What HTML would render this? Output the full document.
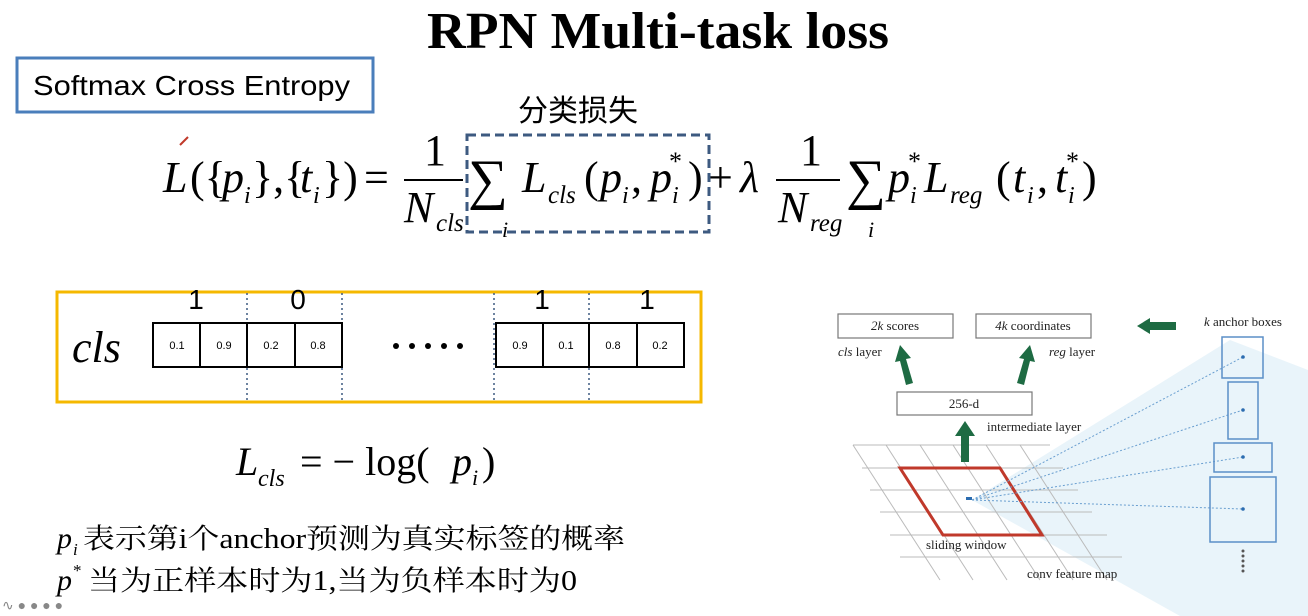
<!DOCTYPE html>
<html><head><meta charset="utf-8"><style>
html,body{margin:0;padding:0;background:#fff;}
svg{display:block;}
.s{font-family:"Liberation Serif","Noto Serif CJK SC",serif;}
.a{font-family:"Liberation Sans","Noto Sans CJK SC",sans-serif;}
.it{font-style:italic;}
</style></head><body>
<svg width="1308" height="616" viewBox="0 0 1308 616" xmlns="http://www.w3.org/2000/svg">
<rect width="1308" height="616" fill="#fff"/>
<!-- title -->
<text x="658" y="48" class="s" font-size="52" font-weight="bold" text-anchor="middle" textLength="462" lengthAdjust="spacingAndGlyphs">RPN Multi-task loss</text>
<rect x="17" y="58" width="356" height="54" fill="none" stroke="#4a7ebb" stroke-width="3"/>
<text x="33" y="95" class="a" font-size="28" textLength="317" lengthAdjust="spacingAndGlyphs">Softmax Cross Entropy</text>
<text x="518" y="121" class="a" font-size="30">分类损失</text>

<!-- formula -->
<g class="s" font-size="44">
<text x="163" y="192" class="it">L</text>
<text x="190" y="192">({</text>
<text x="222" y="192" class="it">p</text>
<text x="244" y="203" class="it" font-size="24">i</text>
<text x="252" y="192">},{</text>
<text x="300" y="192" class="it">t</text>
<text x="313" y="203" class="it" font-size="24">i</text>
<text x="322" y="192">})</text>
<text x="364" y="192">=</text>
<text x="424" y="165">1</text>
<line x1="404" y1="180" x2="463" y2="180" stroke="#000" stroke-width="2"/>
<text x="404" y="222" class="it">N</text>
<text x="436" y="231" class="it" font-size="25">cls</text>
<text x="468" y="198" font-size="56">∑</text>
<text x="502" y="237" class="it" font-size="22">i</text>
<text x="522" y="192" class="it">L</text>
<text x="548" y="203" class="it" font-size="25">cls</text>
<text x="584" y="192">(</text>
<text x="600" y="192" class="it">p</text>
<text x="622" y="203" class="it" font-size="24">i</text>
<text x="631" y="192">,</text>
<text x="650" y="192" class="it">p</text>
<text x="672" y="203" class="it" font-size="24">i</text>
<text x="669" y="170" font-size="26">*</text>
<text x="688" y="192">)</text>
<text x="708" y="192">+</text>
<text x="740" y="192" class="it">λ</text>
<text x="800" y="165">1</text>
<line x1="776" y1="180" x2="840" y2="180" stroke="#000" stroke-width="2"/>
<text x="778" y="222" class="it">N</text>
<text x="810" y="231" class="it" font-size="25">reg</text>
<text x="846" y="198" font-size="56">∑</text>
<text x="868" y="237" class="it" font-size="22">i</text>
<text x="888" y="192" class="it">p</text>
<text x="910" y="203" class="it" font-size="24">i</text>
<text x="908" y="170" font-size="26">*</text>
<text x="924" y="192" class="it">L</text>
<text x="950" y="203" class="it" font-size="25">reg</text>
<text x="996" y="192">(</text>
<text x="1013" y="192" class="it">t</text>
<text x="1027" y="203" class="it" font-size="24">i</text>
<text x="1037" y="192">,</text>
<text x="1055" y="192" class="it">t</text>
<text x="1068" y="203" class="it" font-size="24">i</text>
<text x="1066" y="170" font-size="26">*</text>
<text x="1082" y="192">)</text>
</g>
<rect x="467" y="135" width="242" height="97" fill="none" stroke="#3d5a80" stroke-width="3" stroke-dasharray="9,5"/>
<path d="M180 145 l8 -8" stroke="#c0392b" stroke-width="2"/>

<!-- cls box -->
<rect x="57" y="292" width="644" height="110" fill="none" stroke="#f5b800" stroke-width="3"/>
<g stroke="#3d5a80" stroke-width="1.5" stroke-dasharray="2,3">
<line x1="247" y1="293" x2="247" y2="401"/><line x1="342" y1="293" x2="342" y2="401"/>
<line x1="494" y1="293" x2="494" y2="401"/><line x1="589" y1="293" x2="589" y2="401"/>
</g>
<g fill="none" stroke="#000" stroke-width="2">
<rect x="153" y="323" width="189" height="44"/>
<line x1="200" y1="323" x2="200" y2="367"/><line x1="247" y1="323" x2="247" y2="367"/><line x1="295" y1="323" x2="295" y2="367"/>
<rect x="496" y="323" width="188" height="44"/>
<line x1="543" y1="323" x2="543" y2="367"/><line x1="589" y1="323" x2="589" y2="367"/><line x1="637" y1="323" x2="637" y2="367"/>
</g>
<g class="a" font-size="11" text-anchor="middle">
<text x="177" y="349">0.1</text><text x="224" y="349">0.9</text><text x="271" y="349">0.2</text><text x="318" y="349">0.8</text>
<text x="520" y="349">0.9</text><text x="566" y="349">0.1</text><text x="613" y="349">0.8</text><text x="660" y="349">0.2</text>
</g>
<g class="a" font-size="28" text-anchor="middle">
<text x="196" y="309">1</text><text x="298" y="309">0</text><text x="542" y="309">1</text><text x="647" y="309">1</text>
</g>
<text x="72" y="362" class="s it" font-size="44">cls</text>
<g fill="#000"><circle cx="396" cy="346" r="3"/><circle cx="412" cy="346" r="3"/><circle cx="428" cy="346" r="3"/><circle cx="444" cy="346" r="3"/><circle cx="460" cy="346" r="3"/></g>

<!-- Lcls -->
<g class="s" font-size="40">
<text x="236" y="475" class="it">L</text>
<text x="258" y="486" class="it" font-size="24">cls</text>
<text x="300" y="475">= − log(</text>
<text x="452" y="475" class="it">p</text>
<text x="472" y="485" class="it" font-size="22">i</text>
<text x="482" y="475">)</text>
</g>

<!-- bottom text -->
<text x="57" y="548" class="s it" font-size="30">p</text>
<text x="73" y="555" class="s it" font-size="17">i</text>
<text x="83" y="548" class="s" font-size="28" textLength="542" lengthAdjust="spacingAndGlyphs">表示第i个anchor预测为真实标签的概率</text>
<text x="57" y="590" class="s it" font-size="30">p</text>
<text x="73" y="576" class="s" font-size="17">*</text>
<text x="88" y="590" class="s" font-size="28" textLength="489" lengthAdjust="spacingAndGlyphs">当为正样本时为1,当为负样本时为0</text>
<g fill="#888"><text x="2" y="610" class="a" font-size="14">∿ ● ● ● ●</text></g>

<!-- right diagram -->
<polygon points="972,500 1230,340 1308,370 1308,616 1180,616" fill="#e3f1f9" opacity="0.8"/>
<g stroke="#bbb" stroke-width="1" fill="none">
<line x1="853" y1="445" x2="1050" y2="445"/><line x1="862" y1="468" x2="1063" y2="468"/>
<line x1="870" y1="490" x2="1078" y2="490"/><line x1="880" y1="512" x2="1092" y2="512"/>
<line x1="890" y1="535" x2="1107" y2="535"/><line x1="900" y1="557" x2="1122" y2="557"/>
<line x1="853" y1="445" x2="940" y2="580"/><line x1="886" y1="445" x2="973" y2="580"/>
<line x1="920" y1="445" x2="1007" y2="580"/><line x1="953" y1="445" x2="1040" y2="580"/>
<line x1="986" y1="445" x2="1073" y2="580"/><line x1="1020" y1="445" x2="1107" y2="580"/>
</g>
<polygon points="900,468 1000,468 1042,535 943,535" fill="none" stroke="#c0392b" stroke-width="3"/>
<rect x="966" y="497" width="6" height="3" fill="#2b6cb0"/>
<g stroke="#6a9fd0" stroke-width="1" stroke-dasharray="2,2">
<line x1="972" y1="500" x2="1243" y2="357"/><line x1="972" y1="500" x2="1243" y2="410"/>
<line x1="972" y1="500" x2="1243" y2="457"/><line x1="972" y1="500" x2="1243" y2="509"/>
</g>
<g fill="none" stroke="#5b8fc7" stroke-width="1.5">
<rect x="1222" y="337" width="41" height="41"/><rect x="1228" y="382" width="30" height="57"/>
<rect x="1214" y="443" width="58" height="29"/><rect x="1210" y="477" width="66" height="65"/>
</g>
<g fill="#2b6cb0"><circle cx="1243" cy="357" r="1.8"/><circle cx="1243" cy="410" r="1.8"/><circle cx="1243" cy="457" r="1.8"/><circle cx="1243" cy="509" r="1.8"/></g>
<g fill="#555"><circle cx="1243" cy="551" r="1.5"/><circle cx="1243" cy="556" r="1.5"/><circle cx="1243" cy="561" r="1.5"/><circle cx="1243" cy="566" r="1.5"/><circle cx="1243" cy="571" r="1.5"/></g>
<g fill="none" stroke="#777" stroke-width="1.2">
<rect x="838" y="314" width="115" height="24"/><rect x="976" y="314" width="115" height="24"/>
<rect x="897" y="392" width="135" height="23"/>
</g>
<g class="s" font-size="13" fill="#222">
<text x="895" y="330" text-anchor="middle"><tspan font-style="italic">2k</tspan> scores</text>
<text x="1033" y="330" text-anchor="middle"><tspan font-style="italic">4k</tspan> coordinates</text>
<text x="964" y="408" text-anchor="middle">256-d</text>
<text x="838" y="356"><tspan font-style="italic">cls</tspan> layer</text>
<text x="1049" y="356"><tspan font-style="italic">reg</tspan> layer</text>
<text x="1204" y="326"><tspan font-style="italic">k</tspan> anchor boxes</text>
<text x="987" y="431">intermediate layer</text>
<text x="926" y="549">sliding window</text>
<text x="1027" y="578">conv feature map</text>
</g>
<g fill="#1e6b43">
<polygon points="1137,326 1150,318 1150,322 1176,322 1176,330 1150,330 1150,334"/>
<polygon points="900,345 911,358 906,359 913,383 906,385 900,361 895,362"/>
<polygon points="1030,345 1035,362 1030,361 1024,385 1017,383 1024,359 1019,358"/>
<polygon points="965,421 975,436 969,436 969,462 961,462 961,436 955,436"/>
</g>
</svg>
</body></html>
